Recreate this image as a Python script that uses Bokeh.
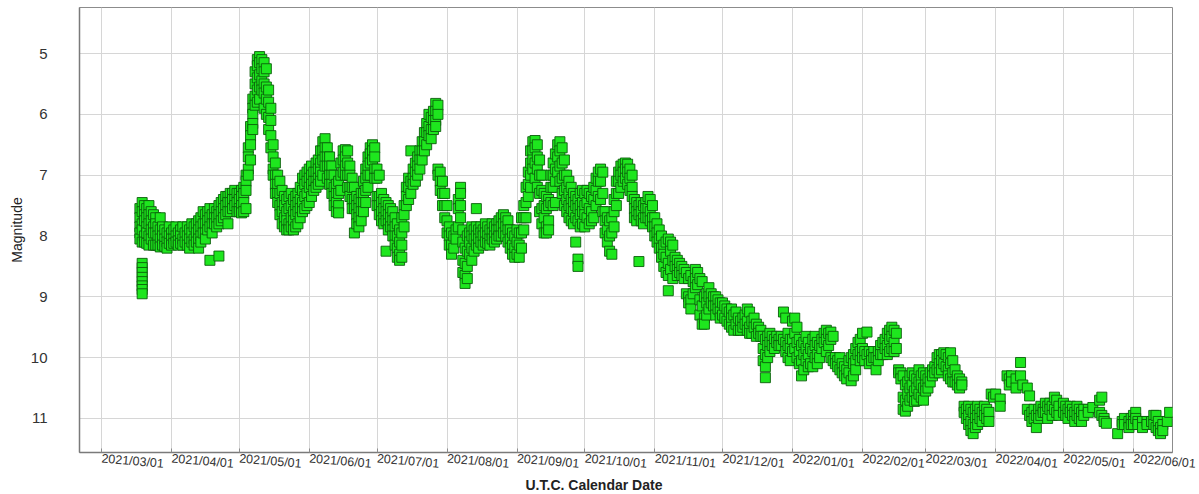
import pandas as pd
from bokeh.plotting import figure
from bokeh.models import Range1d, FixedTicker, DatetimeTickFormatter, ColumnDataSource, Title
from bokeh.embed import file_html
from bokeh.resources import INLINE

# ---- observations: per month, observation days and magnitudes seen that day ----
mar21_days = [18, 19, 20, 21, 22, 23, 24, 25, 26, 27, 28, 29, 30, 31]
mar21_mags = [
    [7.55, 7.7, 7.85, 7.95, 8.05],
    [8.45, 8.52, 8.6, 8.68, 8.75, 8.82, 8.88, 8.95, 7.45, 7.6, 7.8, 7.9, 8.1],
    [7.5, 7.65, 7.75, 8.0, 8.1],
    [7.55, 7.7, 7.85, 7.95, 8.12],
    [7.5, 7.65, 7.8, 8.0, 8.15],
    [7.6, 7.75, 7.9, 8.05],
    [7.65, 7.85, 7.95, 8.15],
    [7.7, 7.8, 7.95, 8.15],
    [7.85, 8.0, 8.15],
    [7.7, 7.9, 8.05, 8.18],
    [7.85, 8.0, 8.15],
    [7.9, 8.05, 8.17],
    [7.95, 8.1, 8.2],
    [7.85, 8.0, 8.12],
]

apr21_days = [1, 2, 3, 4, 5, 6, 7, 8, 9, 10, 11, 12, 13, 14, 15,
              16, 17, 18, 19, 20, 21, 22, 23, 24, 25, 26, 27, 28, 29, 30]
apr21_mags = [
    [7.95, 8.05, 8.15], [7.9, 8.05, 8.12], [7.85, 8.0, 8.1], [7.95, 8.08, 8.15],
    [7.9, 8.0, 8.12], [7.85, 8.05, 8.15], [7.95, 8.1], [7.85, 8.0, 8.15],
    [7.9, 8.05, 8.2], [7.8, 7.95, 8.1], [7.85, 8.05, 8.15], [7.8, 7.95, 8.1],
    [7.75, 7.9, 8.05, 8.2], [7.7, 7.85, 8.0, 8.1], [7.6, 7.8, 7.95],
    [7.65, 7.8, 7.95, 8.05], [7.6, 7.75, 7.9], [7.55, 7.7, 7.85, 8.4],
    [7.65, 7.8, 7.95], [7.55, 7.7, 7.8], [7.6, 7.7, 7.85], [7.5, 7.65, 7.8, 8.33],
    [7.45, 7.6, 7.75], [7.4, 7.55, 7.7], [7.35, 7.5, 7.65], [7.35, 7.45, 7.6, 7.8],
    [7.3, 7.45, 7.6], [7.3, 7.4, 7.55], [7.25, 7.4, 7.5], [7.3, 7.45, 7.6],
]

may21_days = [1, 2, 3, 4, 5, 6, 7, 8, 9, 10, 11, 12, 13, 14, 15, 16,
              17, 18, 19, 20, 21, 22, 23, 24, 25, 26, 27, 28, 29, 30, 31]
may21_mags = [
    [7.3, 7.4, 7.55, 7.6], [7.25, 7.35, 7.5, 7.62], [7.2, 7.3, 7.45, 7.6],
    [7.0, 7.1, 7.25, 7.55], [6.9, 7.0, 6.55, 6.7], [6.2, 6.35, 6.5, 6.75],
    [5.75, 5.9, 6.0, 6.15, 6.25], [5.3, 5.5, 5.7, 5.85], [5.1, 5.2, 5.4, 5.6, 5.8],
    [5.05, 5.15, 5.35, 5.55, 5.75], [5.1, 5.25, 5.45, 5.6], [5.15, 5.3, 5.5, 5.65, 5.9],
    [5.25, 5.55, 5.75, 6.0], [5.6, 5.8, 6.05, 6.25], [5.9, 6.1, 6.35, 6.55],
    [6.5, 6.7, 6.9, 7.0], [6.8, 7.0, 7.15, 7.3], [7.0, 7.15, 7.3, 7.45],
    [7.1, 7.3, 7.5, 7.65], [7.25, 7.45, 7.6, 7.8], [7.35, 7.5, 7.7, 7.85],
    [7.4, 7.6, 7.75, 7.9], [7.35, 7.55, 7.8, 7.9], [7.3, 7.5, 7.7, 7.85],
    [7.4, 7.6, 7.75, 7.9], [7.35, 7.5, 7.65, 7.85], [7.3, 7.45, 7.6, 7.8],
    [7.2, 7.4, 7.55, 7.7], [7.05, 7.25, 7.45, 7.6], [7.0, 7.15, 7.35, 7.55],
    [6.95, 7.1, 7.3, 7.5],
]

jun21_days = [1, 2, 3, 4, 5, 6, 7, 8, 9, 10, 11, 12, 13, 14, 15,
              16, 17, 18, 19, 20, 21, 22, 23, 24, 25, 26, 27, 28, 29, 30]
jun21_mags = [
    [6.9, 7.05, 7.2, 7.45], [6.85, 7.0, 7.15, 7.35], [6.95, 7.1, 7.25],
    [6.8, 6.95, 7.1, 7.2], [6.75, 6.9, 7.05, 7.15], [6.6, 6.8, 6.95, 7.1],
    [6.45, 6.6, 6.75, 7.0], [6.4, 6.55, 6.7, 6.85], [6.55, 6.7, 6.85, 7.05],
    [6.7, 6.85, 7.0, 7.15], [6.85, 7.0, 7.15, 7.3], [7.0, 7.2, 7.35, 7.5],
    [7.15, 7.3, 7.45, 7.6], [7.1, 7.3, 7.5, 7.62], [6.8, 7.0, 7.25],
    [6.6, 6.75, 6.95], [6.58, 6.7, 6.85, 7.0], [6.6, 6.8, 7.0, 7.2],
    [6.85, 7.0, 7.2, 7.35], [7.05, 7.2, 7.4, 7.55], [7.2, 7.4, 7.55, 7.95],
    [7.35, 7.5, 7.65, 7.8], [7.4, 7.55, 7.7, 7.85], [7.3, 7.45, 7.6, 7.75],
    [7.1, 7.3, 7.45, 7.6], [6.9, 7.05, 7.25, 7.45], [6.7, 6.85, 7.0, 7.2],
    [6.55, 6.65, 6.8, 7.0], [6.5, 6.6, 6.75], [6.55, 6.7, 6.9, 7.05],
]

jul21_days = [1, 2, 3, 4, 5, 6, 7, 8, 9, 10, 11, 12, 13, 14, 15, 16,
              17, 18, 19, 20, 21, 22, 23, 24, 25, 26, 27, 28, 29, 30, 31]
jul21_mags = [
    [6.9, 7.05, 7.35, 7.5], [7.0, 7.35, 7.5, 7.65], [7.3, 7.45, 7.6, 7.75],
    [7.4, 7.55, 7.7, 7.8], [7.45, 7.6, 7.75, 8.25], [7.5, 7.65, 7.8, 7.9],
    [7.55, 7.7, 7.85], [7.6, 7.75, 7.9, 8.0], [7.7, 7.85, 8.0, 8.15],
    [7.8, 8.0, 8.2, 8.35], [7.9, 8.1, 8.3, 8.4], [7.7, 7.95, 8.15, 8.35],
    [7.5, 7.65, 7.85], [7.2, 7.35, 7.5], [7.05, 7.2, 7.4], [6.6, 7.1, 7.3],
    [6.9, 7.05, 7.15], [6.8, 6.95, 7.1], [6.7, 6.85, 7.0], [6.6, 6.75, 6.9],
    [6.45, 6.6, 6.75], [6.3, 6.45, 6.6], [6.15, 6.3, 6.5], [6.0, 6.2, 6.35],
    [6.05, 6.25, 6.4], [5.95, 6.1, 6.25], [5.82, 5.95, 6.1, 6.2],
    [5.85, 6.0, 6.9, 7.0], [6.95, 7.1, 7.25], [7.1, 7.3, 7.5], [7.3, 7.5, 7.7],
]

aug21_days = [1, 2, 3, 4, 5, 6, 7, 8, 9, 10, 11, 12, 13, 14, 15, 16,
              17, 18, 19, 20, 21, 22, 23, 24, 25, 26, 27, 28, 29, 30, 31]
aug21_mags = [
    [7.5, 7.75, 7.95], [7.85, 8.0, 8.15], [7.95, 8.15, 8.3], [8.0, 8.2],
    [7.9, 8.05], [7.4, 7.55, 7.85], [7.2, 7.3, 7.5, 7.7], [7.9, 8.1, 8.4, 8.6],
    [8.2, 8.45, 8.65, 8.78], [8.0, 8.25, 8.5, 8.7], [7.95, 8.1, 8.3],
    [7.85, 8.0, 8.2, 8.4], [7.9, 8.05, 8.25], [7.55, 7.85, 8.0, 8.15],
    [7.9, 8.05, 8.2], [7.85, 7.95, 8.1], [7.9, 8.0, 8.15], [7.8, 7.95, 8.1],
    [7.85, 8.0, 8.12], [7.9, 8.05, 8.15], [7.8, 7.95, 8.05], [7.85, 8.0, 8.1],
    [7.8, 7.9, 8.05], [7.75, 7.9, 8.0], [7.7, 7.85, 8.0], [7.65, 7.8, 7.95],
    [7.7, 7.85, 8.0], [7.75, 7.9, 8.1], [7.9, 8.05, 8.2], [7.95, 8.15, 8.3],
    [8.0, 8.2, 8.35],
]

sep21_days = [1, 2, 3, 4, 5, 6, 7, 8, 9, 10, 11, 12, 13, 14, 15,
              16, 17, 18, 19, 20, 21, 22, 23, 24, 25, 26, 27, 28, 29, 30]
sep21_mags = [
    [7.9, 8.1, 8.3], [7.95, 8.15, 8.35], [7.7, 7.95, 8.2], [7.5, 7.7, 7.9],
    [7.2, 7.45, 7.7], [6.95, 7.15, 7.35], [6.6, 6.8, 7.0, 7.2],
    [6.45, 6.6, 6.75, 6.9], [6.43, 6.55, 6.8, 7.05], [6.5, 6.7, 6.9, 7.2],
    [6.75, 7.0, 7.3, 7.6], [7.0, 7.25, 7.55, 7.8], [7.3, 7.5, 7.7, 7.95],
    [7.35, 7.55, 7.85, 7.95], [7.4, 7.5, 7.75, 7.9], [7.0, 7.2, 7.45],
    [6.8, 7.0, 7.2, 7.5], [6.65, 6.9, 7.1, 7.45], [6.5, 6.7, 6.95],
    [6.45, 6.6, 6.85, 7.1], [6.55, 6.8, 7.05, 7.3], [6.75, 7.0, 7.25, 7.5],
    [7.0, 7.2, 7.4, 7.6], [7.1, 7.3, 7.5, 7.7], [7.2, 7.4, 7.55, 7.75],
    [7.3, 7.45, 7.6, 7.8], [7.35, 7.5, 7.7, 8.1], [7.4, 7.55, 7.75, 8.38, 8.5],
    [7.3, 7.5, 7.65, 7.85], [7.25, 7.45, 7.6, 7.8],
]

oct21_days = [1, 2, 3, 4, 5, 6, 7, 8, 9, 10, 11, 12, 13, 14, 15, 16,
              17, 18, 19, 20, 21, 22, 23, 24, 25, 26, 27, 28, 29, 30, 31]
oct21_mags = [
    [7.3, 7.5, 7.65, 7.85], [7.25, 7.45, 7.7], [7.3, 7.55, 7.8], [7.35, 7.6, 7.75],
    [7.2, 7.4, 7.7], [7.05, 7.25, 7.5], [6.95, 7.1, 7.35], [6.9, 7.1, 7.4],
    [6.95, 7.3, 7.6], [7.6, 7.75, 7.95], [7.7, 7.9, 8.1], [7.75, 8.0, 8.25],
    [7.7, 7.95, 8.3], [7.4, 7.6, 7.85], [7.1, 7.3, 7.5], [6.95, 7.1, 7.3],
    [6.85, 7.0, 7.2], [6.82, 6.95, 7.1], [6.8, 6.9, 7.05], [6.82, 6.95, 7.15],
    [6.9, 7.05, 7.25], [7.0, 7.2, 7.35], [7.4, 7.55, 7.7], [7.45, 7.6, 7.75],
    [7.5, 7.65, 8.42], [7.45, 7.6, 7.75], [7.5, 7.7, 7.8], [7.45, 7.55, 7.7],
    [7.35, 7.55, 7.7], [7.4, 7.6, 7.75], [7.5, 7.7, 7.85],
]

nov21_days = [1, 2, 3, 4, 5, 6, 7, 8, 9, 10, 11, 12, 13, 14, 15,
              16, 17, 18, 19, 20, 21, 22, 23, 24, 25, 26, 27, 28, 29, 30]
nov21_mags = [
    [7.7, 7.85, 8.0], [7.8, 7.95, 8.1], [7.9, 8.05, 8.2], [8.0, 8.2, 8.35],
    [8.15, 8.3, 8.5], [8.1, 8.35, 8.6], [8.05, 8.45, 8.65, 8.9], [8.1, 8.25, 8.55],
    [8.15, 8.4, 8.7], [8.35, 8.5], [8.4, 8.55, 8.65], [8.45, 8.6], [8.5, 8.65],
    [8.55, 8.7], [8.6, 8.95], [8.7, 9.0, 9.1], [8.65, 9.05, 9.2], [8.75, 8.95],
    [8.55, 8.7, 8.85], [8.6, 8.8], [8.7, 9.05, 9.3], [8.75, 9.15, 9.45],
    [9.0, 9.35, 9.45], [8.95, 9.1, 9.3], [8.85, 9.0, 9.2], [8.95, 9.1],
    [9.0, 9.15], [9.0, 9.15, 9.3], [9.05, 9.2], [9.1, 9.25, 9.35],
]

dec21_days = [1, 2, 3, 4, 5, 6, 7, 8, 9, 10, 11, 12, 13, 14, 15, 16,
              17, 18, 19, 20, 21, 22, 23, 24, 25, 26, 27, 28, 29, 30, 31]
dec21_mags = [
    [9.1, 9.3], [9.15, 9.35], [9.2, 9.4], [9.25, 9.45], [9.2, 9.35, 9.5],
    [9.3, 9.55], [9.25, 9.45], [9.35, 9.55], [9.4, 9.55], [9.35, 9.5],
    [9.3, 9.45], [9.2, 9.4, 9.55], [9.25, 9.5, 9.6], [9.4, 9.6], [9.35, 9.5],
    [9.45, 9.65], [9.5, 9.6], [9.55, 9.65], [9.65, 9.85, 10.05],
    [9.7, 9.95, 10.15, 10.33], [9.65, 9.8, 10.0], [9.6, 9.75, 9.9], [9.65, 9.8],
    [9.7, 9.85], [9.65, 9.75], [9.7, 9.8], [9.65, 9.8], [9.25, 9.7],
    [9.35, 9.75, 9.9], [9.6, 9.8, 10.0], [9.7, 9.85, 10.05],
]

jan22_days = [1, 2, 3, 4, 5, 6, 7, 8, 9, 10, 11, 12, 13, 14, 15, 16,
              17, 18, 19, 20, 21, 22, 23, 24, 25, 26, 27, 28, 29, 30, 31]
jan22_mags = [
    [9.4, 9.7, 9.9], [9.35, 9.6, 9.85], [9.5, 9.75, 10.0], [9.7, 9.9, 10.1],
    [9.8, 10.05, 10.3], [9.75, 9.95, 10.2], [9.65, 9.85, 10.05], [9.75, 9.95, 10.15],
    [9.85, 10.1], [9.7, 9.9, 10.15], [9.65, 9.8, 10.0], [9.75, 9.95, 10.1],
    [9.8, 10.0], [9.7, 9.85], [9.6, 9.75], [9.55, 9.7, 9.9], [9.6, 9.8],
    [9.58, 9.7, 10.0], [9.65, 10.05], [10.0, 10.1], [10.05, 10.15], [10.0, 10.2],
    [10.1, 10.25], [10.15, 10.3], [10.2, 10.35], [10.05, 10.25], [10.0, 10.38],
    [9.95, 10.1, 10.3], [9.85, 10.05, 10.2], [9.75, 9.95], [9.7, 9.9, 10.05],
]

feb22_days = [1, 2, 3, 4, 5, 6, 7, 8, 9, 10, 11, 12, 13, 14,
              15, 16, 17, 18, 19, 20, 21, 22, 23, 24, 25, 26, 27, 28]
feb22_mags = [
    [9.6, 9.85, 10.0], [9.9, 10.05], [9.58, 9.95], [9.9, 10.1], [9.95, 10.05],
    [9.9, 10.0], [10.0, 10.2], [9.9, 10.05], [9.8, 9.95], [9.75, 9.95],
    [9.7, 9.85], [9.6, 9.8, 9.95], [9.55, 9.7, 9.9], [9.5, 9.65, 9.85],
    [9.55, 9.75, 9.9], [9.6, 9.85], [10.2, 10.25], [10.25, 10.35],
    [10.3, 10.65, 10.85], [10.45, 10.7, 10.88], [10.4, 10.6, 10.8],
    [10.3, 10.5, 10.7], [10.25, 10.45, 10.65], [10.3, 10.55, 10.72],
    [10.35, 10.5, 10.7], [10.2, 10.4, 10.6], [10.3, 10.45, 10.65], [10.25, 10.5, 10.7],
]

mar22_days = [1, 2, 3, 4, 5, 6, 7, 8, 9, 10, 11, 12, 13, 14, 15, 16,
              17, 18, 19, 20, 21, 22, 23, 24, 25, 26, 27, 28, 29, 30, 31]
mar22_mags = [
    [10.3, 10.45, 10.55], [10.35, 10.5], [10.25, 10.4], [10.2, 10.3], [10.15, 10.25],
    [10.0, 10.2], [9.95, 10.1, 10.25], [9.95, 10.05, 10.2], [9.92, 10.1],
    [9.95, 10.15], [10.0, 10.2, 10.3], [9.92, 10.1, 10.35], [10.05, 10.25, 10.4],
    [10.2, 10.4], [10.3, 10.45], [10.35, 10.5], [10.4, 10.45], [10.8, 10.9],
    [10.85, 11.0], [10.8, 10.95, 11.1], [10.85, 11.05, 11.2], [10.9, 11.1, 11.25],
    [10.85, 11.0, 11.15], [10.8, 10.95, 11.1], [10.85, 11.0], [10.9, 11.05],
    [10.8, 10.95], [10.85, 11.0], [10.9, 11.05], [10.6], [10.65],
]

apr22_days = [1, 3, 6, 7, 8, 10, 12, 13, 15, 16, 17, 18, 19, 20,
              21, 22, 23, 24, 25, 26, 27, 28, 29]
apr22_mags = [
    [10.6], [10.68, 10.8], [10.3], [10.35, 10.45], [10.3, 10.4], [10.35, 10.5],
    [10.08, 10.3], [10.45], [10.5, 10.85], [10.63, 10.95], [10.9, 11.05],
    [10.85, 11.0], [10.95, 11.15], [10.85, 11.0], [10.8, 10.95], [10.85, 10.9],
    [10.75, 10.9], [10.8, 11.0], [10.75, 10.85], [10.8, 10.95], [10.65, 10.85],
    [10.7, 10.9], [10.8, 10.95],
]

may22_days = [1, 2, 3, 4, 5, 6, 7, 8, 9, 10, 12, 14, 17, 18, 19, 20,
              25, 27, 28, 30, 31]
may22_mags = [
    [10.75, 10.9], [10.8, 10.95], [10.85, 11.0], [10.8, 10.9], [10.85, 10.95],
    [10.9, 11.05], [10.8, 10.95], [10.85, 11.0], [10.9, 11.05], [10.85, 10.95],
    [10.85, 10.9], [10.82], [10.7, 10.9], [10.65, 10.95], [11.0, 11.05], [11.08],
    [11.25], [11.05, 11.1], [11.0, 11.1], [11.05, 11.15], [11.0, 11.1],
]

jun22_days = [1, 2, 3, 5, 7, 9, 10, 11, 12, 13, 14, 16, 17]
jun22_mags = [
    [10.95, 11.05, 11.1], [10.9, 11.0], [11.05, 11.1], [11.05, 11.15],
    [11.05, 11.1], [11.05], [10.95, 11.1], [10.95, 11.15], [11.05, 11.2],
    [11.15, 11.25], [11.1, 11.2], [11.05], [10.9],
]

months = [
    ("2021-03", mar21_days, mar21_mags), ("2021-04", apr21_days, apr21_mags),
    ("2021-05", may21_days, may21_mags), ("2021-06", jun21_days, jun21_mags),
    ("2021-07", jul21_days, jul21_mags), ("2021-08", aug21_days, aug21_mags),
    ("2021-09", sep21_days, sep21_mags), ("2021-10", oct21_days, oct21_mags),
    ("2021-11", nov21_days, nov21_mags), ("2021-12", dec21_days, dec21_mags),
    ("2022-01", jan22_days, jan22_mags), ("2022-02", feb22_days, feb22_mags),
    ("2022-03", mar22_days, mar22_mags), ("2022-04", apr22_days, apr22_mags),
    ("2022-05", may22_days, may22_mags), ("2022-06", jun22_days, jun22_mags),
]

tick_dates = ["2021-03-01", "2021-04-01", "2021-05-01", "2021-06-01", "2021-07-01",
              "2021-08-01", "2021-09-01", "2021-10-01", "2021-11-01", "2021-12-01",
              "2022-01-01", "2022-02-01", "2022-03-01", "2022-04-01", "2022-05-01",
              "2022-06-01"]
mag_ticks = [5, 6, 7, 8, 9, 10, 11]

# ---- build the table ----
dates, mags = [], []
for ym, ds, ms in months:
    for d, vals in zip(ds, ms):
        for v in vals:
            dates.append(pd.Timestamp(f"{ym}-{d:02d}"))
            mags.append(v)
src = ColumnDataSource(data=dict(date=dates, mag=mags))

FONT = "Liberation Sans"

p = figure(width=1199, height=494, x_axis_type="datetime",
           x_range=Range1d(pd.Timestamp("2021-02-19 06:00"), pd.Timestamp("2022-06-18 07:00")),
           y_range=Range1d(11.56, 4.243),
           output_backend="svg", toolbar_location=None,
           min_border_left=79, min_border_right=27, min_border_top=7, min_border_bottom=42)
p.background_fill_color = "white"
p.border_fill_color = "white"
p.outline_line_color = "#8c8c8c"
p.outline_line_width = 1

tick_ms = [pd.Timestamp(t).value // 10**6 for t in tick_dates]
xa = p.xaxis[0]
xa.ticker = FixedTicker(ticks=tick_ms)
fmt = "%Y/%m/%d"
xa.formatter = DatetimeTickFormatter(microseconds=fmt, milliseconds=fmt, seconds=fmt,
                                     minsec=fmt, minutes=fmt, hourmin=fmt, hours=fmt,
                                     days=fmt, months=fmt, years=fmt)
xa.major_label_orientation = -0.085
xa.major_label_standoff = 6
xa.major_label_text_font = FONT
xa.major_label_text_font_size = "12.5px"
xa.major_label_text_color = "#333333"
xa.major_tick_in = 4
xa.major_tick_out = 0
xa.major_tick_line_color = "#8c8c8c"
xa.minor_tick_line_color = None
xa.axis_line_color = "#7a7a7a"
xa.axis_line_width = 1.5

ya = p.yaxis[0]
ya.ticker = FixedTicker(ticks=mag_ticks)
ya.major_label_standoff = 32
ya.major_label_text_font = FONT
ya.major_label_text_font_size = "15px"
ya.major_label_text_color = "#333333"
ya.major_tick_in = 0
ya.major_tick_out = 0
ya.major_tick_line_color = None
ya.minor_tick_line_color = None
ya.axis_line_color = "#7a7a7a"
ya.axis_line_width = 1.5
ya.axis_label = "Magnitude"
ya.axis_label_standoff = 3
ya.axis_label_text_font = FONT
ya.axis_label_text_font_size = "14px"
ya.axis_label_text_font_style = "normal"
ya.axis_label_text_color = "#222222"

p.grid.grid_line_color = "#d6d6d6"
p.grid.grid_line_width = 1

p.scatter(x="date", y="mag", source=src, marker="square", size=10,
          fill_color="#1ee61e", line_color="#0b5e0b", line_width=0.9)

p.add_layout(Title(text="U.T.C. Calendar Date", align="left", offset=446, standoff=-7,
                   vertical_align="top",
                   text_font=FONT, text_font_size="14px", text_font_style="bold",
                   text_color="#222222"), "below")

open("out.html", "w").write(file_html(p, INLINE))
